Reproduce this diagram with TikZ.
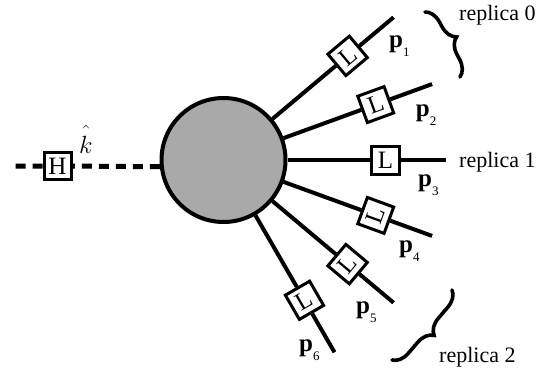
\documentclass[tikz,border=0pt]{standalone}
\usepackage{fontspec}
\setmainfont{Liberation Serif}
\usetikzlibrary{decorations.pathreplacing,calc}
\definecolor{blobgray}{RGB}{169,169,169}
\newcommand{\plab}[1]{{\fontsize{25}{25}\selectfont\bfseries p}\raisebox{-9pt}{\fontsize{13}{13}\selectfont #1}}
\begin{document}
\begin{tikzpicture}[x=1pt,y=1pt,
  leg/.style={line width=4pt},
  box/.style={draw, line width=3pt, fill=white, minimum size=28pt, inner sep=0pt, font=\fontsize{25}{25}\selectfont},
  lab/.style={inner sep=0pt, anchor=base west},
  rep/.style={inner sep=0pt, anchor=base west, font=\fontsize{22}{22}\selectfont},
  brc/.style={decorate, decoration={brace, amplitude=16pt, aspect=0.5}, line width=3.6pt, line cap=round}
]
\useasboundingbox (0,-375) rectangle (557,0);
\node[circle, draw, line width=4pt, fill=blobgray, minimum size=124pt, inner sep=0pt] (blob) at (223.5,-160) {};
\coordinate (kin) at (14,-166);
\node[box, minimum size=27pt] (h) at (57.5,-166) {H};
\draw[line width=5pt, dash pattern=on 10pt off 7pt] (blob.186) -- (h) -- (kin);
\node[inner sep=0pt, anchor=base] (k) at (86,-153) {\fontsize{24}{24}\selectfont$\hat{\rule{0pt}{21pt}k}$};
\foreach \i/\a/\r in {1/40/40, 2/20/20, 3/0/0, 4/-20/70, 5/-40/50, 6/-60/30} {
  \coordinate (e\i) at ($(blob.center)+(\a:222)$);
  \node[box, rotate=\r] (l\i) at ($(blob.center)+(\a:162)$) {L};
  \draw[leg] (blob.\a) -- (l\i) -- (e\i);
}
\node[lab] (p1) at (389,-47) {\plab{1}};
\node[lab] (p2) at (415.7,-116.7) {\plab{2}};
\node[lab] (p3) at (418,-186) {\plab{3}};
\node[lab] (p4) at (399,-252.7) {\plab{4}};
\node[lab] (p5) at (356,-313) {\plab{5}};
\node[lab] (p6) at (299,-351) {\plab{6}};
\node[rep] (r0) at (459,-20) {replica 0};
\node[rep] (r1) at (459,-167) {replica 1};
\node[rep] (r2) at (439,-362) {replica 2};
\coordinate (b0a) at (425,-12);
\coordinate (b0b) at (460,-77);
\draw[brc] (b0a) -- (b0b);
\coordinate (b2a) at (452,-290);
\coordinate (b2b) at (392,-360);
\draw[brc] (b2a) -- (b2b);
\end{tikzpicture}
\end{document}
